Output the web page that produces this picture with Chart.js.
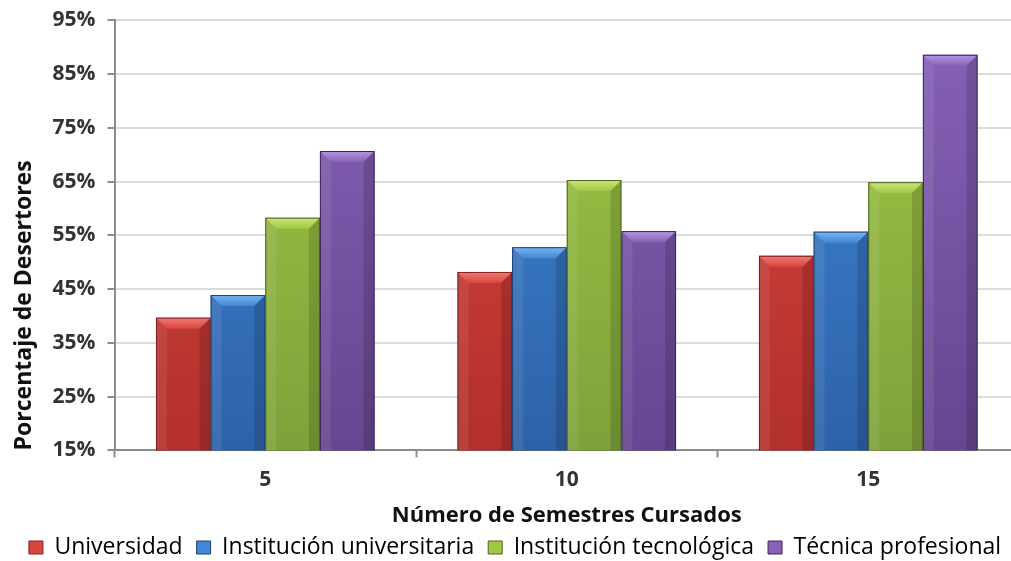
<!DOCTYPE html>
<html>
<head>
<meta charset="utf-8">
<script src="https://cdn.jsdelivr.net/npm/chart.js@4/dist/chart.umd.min.js"></script>
<style>
  html, body { margin: 0; padding: 0; background: #fff; overflow: hidden; }
  #wrap { width: 1020px; height: 561px; position: relative; }
</style>
</head>
<body>
<div id="wrap"><canvas id="chart"></canvas></div>
<script>
// semesters studied (x categories)
const semestres = ["5", "10", "15"];

// dropout percentage per institution type
const universidad = [39.7, 48.2, 51.2];
const institucionUniversitaria = [43.9, 52.8, 55.7];
const institucionTecnologica = [58.3, 65.3, 64.9];
const tecnicaProfesional = [70.7, 55.8, 88.6];

const seriesNames = [
    "Universidad",
    "Institución universitaria",
    "Institución tecnológica",
    "Técnica profesional",
];

// top colour, bottom colour, bevel highlight, outline
const palette = [
    ["#d9463f", "#b2302d", "#ee7b74", "#7d2020"],
    ["#4187d6", "#2d62a9", "#79b6f2", "#1f3f6e"],
    ["#a0c845", "#7ea23a", "#cde57a", "#4d6322"],
    ["#8762b8", "#654690", "#b597e3", "#3a2856"],
];

const FONT = "'Open Sans', Lato, sans-serif";

function vGrad(top, bottom) {
    return (c) => {
        const a = c.chart.chartArea;
        if (!a) return bottom;
        const g = c.chart.ctx.createLinearGradient(0, a.top, 0, a.bottom);
        g.addColorStop(0, top);
        g.addColorStop(1, bottom);
        return g;
    };
}

// draws the bevelled top and shaded sides on every bar
const bevelPlugin = {
    id: "bevel",
    afterDatasetsDraw(chart) {
        const ctx = chart.ctx;
        const area = chart.chartArea;
        ctx.save();
        ctx.beginPath();
        ctx.rect(area.left, area.top, area.right - area.left, area.bottom - area.top);
        ctx.clip();
        chart.data.datasets.forEach((ds, i) => {
            const meta = chart.getDatasetMeta(i);
            const col = palette[i];
            meta.data.forEach((bar) => {
                const { x, y, width } = bar.getProps(["x", "y", "width"], true);
                const base = area.bottom;
                const l = x - width / 2;
                const r = x + width / 2;
                const b = Math.min(11, (base - y) / 3);
                // top facet
                const tg = ctx.createLinearGradient(0, y, 0, y + b);
                tg.addColorStop(0, col[2]);
                tg.addColorStop(1, col[0]);
                ctx.fillStyle = tg;
                ctx.beginPath();
                ctx.moveTo(l, y);
                ctx.lineTo(r, y);
                ctx.lineTo(r - b, y + b);
                ctx.lineTo(l + b, y + b);
                ctx.closePath();
                ctx.fill();
                // left highlight
                ctx.fillStyle = "rgba(255,255,255,0.08)";
                ctx.beginPath();
                ctx.moveTo(l, y);
                ctx.lineTo(l + b, y + b);
                ctx.lineTo(l + b, base);
                ctx.lineTo(l, base);
                ctx.closePath();
                ctx.fill();
                // right shade
                ctx.fillStyle = "rgba(0,0,0,0.14)";
                ctx.beginPath();
                ctx.moveTo(r, y);
                ctx.lineTo(r - b, y + b);
                ctx.lineTo(r - b, base);
                ctx.lineTo(r, base);
                ctx.closePath();
                ctx.fill();
                // outline
                ctx.strokeStyle = col[3];
                ctx.lineWidth = 1;
                ctx.strokeRect(l + 0.5, y + 0.5, width - 1, base - y);
            });
        });
        ctx.restore();
    },
};

const values = [universidad, institucionUniversitaria, institucionTecnologica, tecnicaProfesional];

const datasets = values.map((data, i) => ({
    label: seriesNames[i],
    data: data,
    backgroundColor: vGrad(palette[i][0], palette[i][1]),
    borderWidth: 0,
    categoryPercentage: 0.725,
    barPercentage: 1.0,
}));

const config = {
    type: "bar",
    data: { labels: semestres, datasets: datasets },
    options: {
        responsive: true,
        maintainAspectRatio: false,
        animation: false,
        layout: { padding: { top: 0, right: 1, left: 11, bottom: -8 } },
        scales: {
            x: {
                grid: {
                    drawOnChartArea: false,
                    drawTicks: true,
                    tickLength: 7,
                    tickColor: "#8c8c8c",
                    tickWidth: 2,
                },
                border: { color: "#8c8c8c", width: 2 },
                ticks: {
                    color: "#333",
                    font: { family: FONT, size: 21, weight: "bold" },
                    padding: 10,
                },
                title: {
                    display: true,
                    text: "Número de Semestres Cursados",
                    color: "#111",
                    font: { family: FONT, size: 22, weight: "bold" },
                    padding: { top: 0, bottom: -7 },
                },
            },
            y: {
                min: 15,
                max: 95,
                ticks: {
                    stepSize: 10,
                    color: "#333",
                    font: { family: FONT, size: 21, weight: "bold", lineHeight: 0.8 },
                    padding: 12,
                    callback: (v) => v + "%",
                },
                grid: {
                    color: "#dcdcdc",
                    lineWidth: 2,
                    tickLength: 7,
                    tickColor: "#8c8c8c",
                    tickWidth: 2,
                },
                border: { color: "#8c8c8c", width: 2 },
                title: {
                    display: true,
                    text: "Porcentaje de Desertores",
                    align: "start",
                    color: "#111",
                    font: { family: FONT, size: 23, weight: "bold" },
                    padding: { top: 0, bottom: 2 },
                },
            },
        },
        plugins: {
            legend: {
                position: "bottom",
                labels: {
                    boxWidth: 14,
                    boxHeight: 13,
                    padding: 14,
                    color: "#111",
                    font: { family: FONT, size: 23 },
                    generateLabels: (chart) =>
                        chart.data.datasets.map((ds, i) => ({
                            text: ds.label,
                            fillStyle: palette[i][0],
                            strokeStyle: palette[i][3],
                            lineWidth: 1,
                            datasetIndex: i,
                        })),
                },
            },
            tooltip: { enabled: false },
        },
    },
    plugins: [bevelPlugin],
};

const chart = new Chart(document.getElementById("chart"), config);
</script>
</body>
</html>
